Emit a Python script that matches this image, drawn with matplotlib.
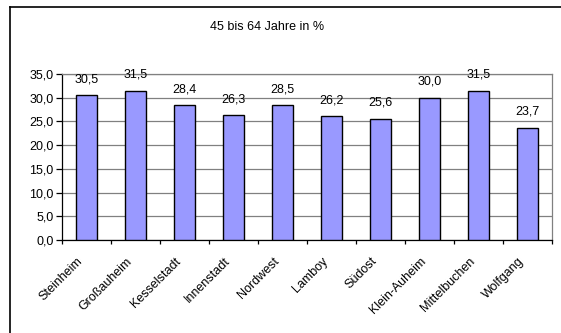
import matplotlib
matplotlib.use("Agg")
import matplotlib.pyplot as plt
from matplotlib.lines import Line2D
from matplotlib.ticker import MultipleLocator, FuncFormatter

plt.rcParams['font.family'] = ['Liberation Sans', 'DejaVu Sans']

# Anteil der 45- bis 64-Jährigen nach Stadtteil
stadtteile = ["Steinheim", "Großauheim", "Kesselstadt", "Innenstadt", "Nordwest",
              "Lamboy", "Südost", "Klein-Auheim", "Mittelbuchen", "Wolfgang"]
anteil = [30.5, 31.5, 28.4, 26.3, 28.5, 26.2, 25.6, 30.0, 31.5, 23.7]
titel = "45 bis 64 Jahre in %"

W, H = 561, 333
fig = plt.figure(figsize=(W / 100, H / 100), dpi=100)

# Plotbereich in Pixeln: links 62, rechts 552, oben 74, unten 240
L, R, T, B = 62, 552, 74, 240
ax = fig.add_axes([L / W, 1 - B / H, (R - L) / W, (B - T) / H])

x = list(range(len(stadtteile)))
bars = ax.bar(x, anteil, width=0.435, color="#9999FF", edgecolor="black",
              linewidth=1.0, zorder=3)

ax.set_xlim(-0.5, len(stadtteile) - 0.5)
ax.set_ylim(0, 35)
ax.yaxis.set_major_locator(MultipleLocator(5))
ax.yaxis.set_major_formatter(FuncFormatter(lambda v, p: f"{v:.1f}".replace(".", ",")))
ax.grid(axis="y", color="#808080", linewidth=0.9, zorder=0)

for s in ("top", "right"):
    ax.spines[s].set_color("#808080")
    ax.spines[s].set_linewidth(0.9)
for s in ("left", "bottom"):
    ax.spines[s].set_color("black")
    ax.spines[s].set_linewidth(0.9)

ax.tick_params(axis="y", direction="out", length=4, width=0.9, labelsize=9, pad=2)
ax.set_xticks([i + 0.5 for i in range(-1, len(stadtteile))], minor=False)
ax.set_xticklabels([])
ax.tick_params(axis="x", direction="out", length=3, width=0.9)

for i, name in enumerate(stadtteile):
    ax.annotate(name, xy=(i, 0), xycoords="data", xytext=(-7, -11),
                textcoords="offset points", rotation=45, ha="right", va="top",
                rotation_mode="anchor", fontsize=9)

for rect, v in zip(bars, anteil):
    ax.annotate(f"{v:.1f}".replace(".", ","),
                xy=(rect.get_x() + rect.get_width() / 2, v),
                xytext=(0, 7), textcoords="offset points",
                ha="center", va="bottom", fontsize=9, zorder=4)

fig.text(267 / W, 1 - 27 / H, titel, ha="center", va="center", fontsize=9)

# Rahmen des Diagrammbereichs
fig.add_artist(Line2D([10 / W, 10 / W], [0, 1 - 7 / H], transform=fig.transFigure,
                      color="black", linewidth=1.2))
fig.add_artist(Line2D([10 / W, 1], [1 - 7 / H, 1 - 7 / H], transform=fig.transFigure,
                      color="black", linewidth=1.2))

fig.savefig("out.png", dpi=100)
